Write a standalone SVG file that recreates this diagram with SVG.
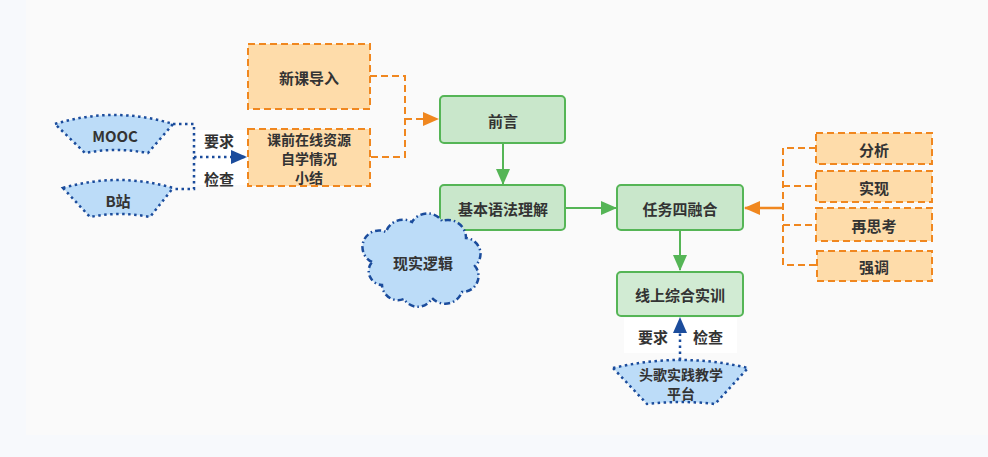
<svg xmlns="http://www.w3.org/2000/svg" width="988" height="457" viewBox="0 0 988 457">
<style>
text{font-family:"Noto Sans CJK SC","Noto Sans",sans-serif;font-size:15px;font-weight:bold;fill:#333;text-anchor:middle;dominant-baseline:central}
text.s{font-size:14px}
.ob{fill:#fedcaa;stroke:#f0871f;stroke-width:2;stroke-dasharray:7 4}
.gb{fill:#c9e7cb;stroke:#55b556;stroke-width:2}
.bf{fill:#bcdcf8;stroke:#1b4c9c;stroke-width:2.5;stroke-dasharray:2.5 3.5}
.oc{fill:none;stroke:#f0871f;stroke-width:2;stroke-dasharray:7 4}
.gc{fill:none;stroke:#55b556;stroke-width:2}
.bc{fill:none;stroke:#1b4c9c;stroke-width:2.5;stroke-dasharray:2.5 3.5}
</style>
<defs>
<marker id="ao" markerUnits="userSpaceOnUse" markerWidth="16" markerHeight="14" refX="15" refY="7" orient="auto"><path d="M0 0L16 7L0 14Z" fill="#f0871f"/></marker>
<marker id="ag" markerUnits="userSpaceOnUse" markerWidth="16" markerHeight="14" refX="15" refY="7" orient="auto"><path d="M0 0L16 7L0 14Z" fill="#55b556"/></marker>
<marker id="ab" markerUnits="userSpaceOnUse" markerWidth="16" markerHeight="14" refX="15" refY="7" orient="auto"><path d="M0 0L16 7L0 14Z" fill="#1b4c9c"/></marker>
</defs>
<rect width="988" height="457" fill="#f7f9fc"/>
<rect x="26" y="0" width="962" height="435" fill="#fafafa"/>

<g id="connectors">
<path class="oc" d="M370 76H405V157H370"/>
<path class="oc" d="M405 119H438" marker-end="url(#ao)"/>
<path class="gc" d="M503 143V184" marker-end="url(#ag)"/>
<path class="gc" d="M565 208H616" marker-end="url(#ag)"/>
<path class="gc" d="M680 230V270" marker-end="url(#ag)"/>
<path class="oc" d="M816 148H783V265H816M783 186H816M783 225H816"/>
<path d="M783 208H745" fill="none" stroke="#f0871f" stroke-width="2.5" marker-end="url(#ao)"/>
<path class="bc" d="M173 124H194V189H173"/>
<rect x="196" y="130" width="52" height="55" fill="#fff"/>
<path class="bc" d="M194 157H246" marker-end="url(#ab)"/>
<text x="219" y="140">要求</text>
<text x="219" y="178">检查</text>
<rect x="624" y="318" width="113" height="35" fill="#fff"/>
<path class="bc" d="M680 360V318" marker-end="url(#ab)"/>
<text x="653" y="336">要求</text>
<text x="708" y="336">检查</text>
</g>

<g id="n-xinke"><rect class="ob" x="248" y="44" width="122" height="65"/><text x="309" y="77">新课导入</text></g>
<g id="n-kqian"><rect class="ob" x="248" y="129" width="122" height="57"/><text class="s" x="309" y="139">课前在线资源</text><text class="s" x="309" y="158">自学情况</text><text class="s" x="309" y="177">小结</text></g>
<g id="n-qianyan"><rect class="gb" x="440" y="96" width="125" height="47" rx="4"/><text x="503" y="120">前言</text></g>
<g id="n-jiben"><rect class="gb" x="440" y="185" width="125" height="45" rx="4"/><text x="503" y="208">基本语法理解</text></g>
<g id="n-renwu"><rect class="gb" x="617" y="185" width="126" height="45" rx="4"/><text x="680" y="208">任务四融合</text></g>
<g id="n-xianshang"><rect class="gb" x="617" y="272" width="126" height="44" rx="4" fill-opacity="0.85"/><text x="680" y="294">线上综合实训</text></g>
<g id="n-mooc"><path class="bf" d="M55 124Q114 106 173 124L148 153Q116 147 85 153Z"/><text x="115" y="135">MOOC</text></g>
<g id="n-bzhan"><path class="bf" d="M63 188Q118 172 173 188L150 217Q120 211 90 217Z"/><text x="118" y="200">B站</text></g>
<g id="n-touge"><path class="bf" d="M613 368Q681 352 748 368L715 404Q681 400 647 404Z"/><text class="s" x="681" y="374">头歌实践教学</text><text class="s" x="681" y="393">平台</text></g>
<g id="n-cloud"><path d="M372 262A16 16 0 0 1 386 232A18 18 0 0 1 412 222A18 18 0 0 1 442 221A18 18 0 0 1 466 238A16 16 0 0 1 475 266A16 16 0 0 1 462 292A18 18 0 0 1 432 298A16 16 0 0 1 404 299A16 16 0 0 1 382 285A14 14 0 0 1 372 262Z" fill="#bcdcf8" stroke="#1b4c9c" stroke-width="2.5" stroke-dasharray="6 3 1.5 3"/><text x="423" y="262">现实逻辑</text></g>
<g id="n-fenxi"><rect class="ob" x="816" y="133" width="116" height="31"/><text x="874" y="149">分析</text></g>
<g id="n-shixian"><rect class="ob" x="816" y="171" width="116" height="31"/><text x="874" y="187">实现</text></g>
<g id="n-zaisi"><rect class="ob" x="816" y="208" width="116" height="33"/><text x="874" y="225">再思考</text></g>
<g id="n-qiangdiao"><rect class="ob" x="817" y="251" width="115" height="30"/><text x="874" y="266">强调</text></g>
</svg>
